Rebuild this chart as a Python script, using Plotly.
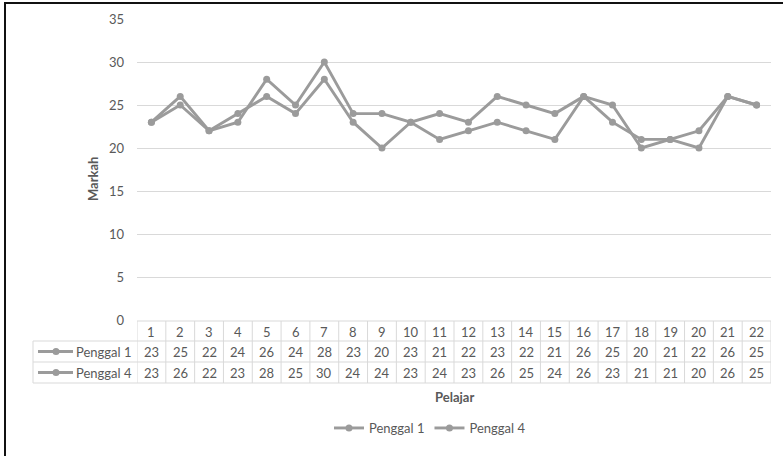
import plotly.graph_objects as go

categories = list(range(1, 23))
penggal1 = [23, 25, 22, 24, 26, 24, 28, 23, 20, 23, 21, 22, 23, 22, 21, 26, 25, 20, 21, 22, 26, 25]
penggal4 = [23, 26, 22, 23, 28, 25, 30, 24, 24, 23, 24, 23, 26, 25, 24, 26, 23, 21, 21, 20, 26, 25]
series_names = ["Penggal 1", "Penggal 4"]
y_ticks = [0, 5, 10, 15, 20, 25, 30, 35]

W, H = 783, 456
LINE = "#9b9b9b"
TXT = "#595959"
GRID = "#d9d9d9"
FONT = "Lato, 'Open Sans', sans-serif"
FS = 13


def yp(py):
    return 1 - py / H


def xp(px):
    return px / W


def ann(**kw):
    base = dict(showarrow=False, xanchor="center", yanchor="middle",
                font=dict(size=FS, color=TXT, family=FONT))
    base.update(kw)
    return base


fig = go.Figure()
for name, vals in zip(series_names, [penggal1, penggal4]):
    fig.add_trace(go.Scatter(
        x=categories, y=vals, name=name, mode="lines+markers",
        line=dict(color=LINE, width=2.9),
        marker=dict(color=LINE, size=7),
    ))

shapes = []
annotations = []

t_top, r1, r2, t_bot = 321, 341, 362, 383
lab_left = 33
plot_left, plot_right = 137, 771

shapes.append(dict(type="line", xref="paper", yref="paper", x0=xp(plot_left), x1=xp(plot_right),
                   y0=yp(t_top), y1=yp(t_top), line=dict(color=GRID, width=1)))
for py in (r1, r2, t_bot):
    shapes.append(dict(type="line", xref="paper", yref="paper", x0=xp(lab_left), x1=xp(plot_right),
                       y0=yp(py), y1=yp(py), line=dict(color=GRID, width=1)))
for i in range(len(categories) + 1):
    xv = categories[0] - 0.5 + i
    shapes.append(dict(type="line", xref="x", yref="paper", x0=xv, x1=xv,
                       y0=yp(t_top), y1=yp(t_bot), line=dict(color=GRID, width=1)))
shapes.append(dict(type="line", xref="paper", yref="paper", x0=xp(lab_left), x1=xp(lab_left),
                   y0=yp(r1), y1=yp(t_bot), line=dict(color=GRID, width=1)))

for c in categories:
    annotations.append(ann(x=c, y=yp((t_top + r1) / 2 + 1), xref="x", yref="paper", text=str(c)))
for (top, bot), name, vals in zip([(r1, r2), (r2, t_bot)], series_names, [penggal1, penggal4]):
    yc = yp((top + bot) / 2)
    for c, v in zip(categories, vals):
        annotations.append(ann(x=c, y=yc, xref="x", yref="paper", text=str(v)))
    shapes.append(dict(type="line", xref="paper", yref="paper", x0=xp(38), x1=xp(73), y0=yc, y1=yc,
                       line=dict(color=LINE, width=2.9)))
    shapes.append(dict(type="circle", xref="paper", yref="paper", x0=xp(52.5), x1=xp(59.5),
                       y0=yc - 3.5 / H, y1=yc + 3.5 / H, fillcolor=LINE, line=dict(color=LINE, width=0)))
    annotations.append(ann(x=xp(74), y=yc, xref="paper", yref="paper", text=name, xanchor="left"))

annotations.append(ann(x=xp(454), y=yp(397), xref="paper", yref="paper", text="<b>Pelajar</b>",
                       font=dict(size=13, color=TXT, family=FONT)))
annotations.append(ann(x=xp(93), y=yp(179), xref="paper", yref="paper", text="<b>Markah</b>",
                       textangle=-90, font=dict(size=13, color=TXT, family=FONT)))

shapes.append(dict(type="line", xref="paper", yref="paper", x0=xp(5), x1=xp(5), y0=0, y1=yp(2),
                   line=dict(color="#111111", width=2)))
shapes.append(dict(type="line", xref="paper", yref="paper", x0=xp(4), x1=1, y0=yp(3), y1=yp(3),
                   line=dict(color="#111111", width=2)))

fig.update_layout(
    template="none",
    width=W, height=H,
    margin=dict(l=0, r=0, t=0, b=0, pad=0, autoexpand=False),
    paper_bgcolor="white", plot_bgcolor="white",
    showlegend=True,
    legend=dict(orientation="h", x=xp(430), xanchor="center", y=yp(428), yanchor="middle",
                font=dict(size=FS, color=TXT, family=FONT), itemwidth=30, bgcolor="rgba(0,0,0,0)"),
    xaxis=dict(domain=[xp(plot_left), xp(plot_right)], range=[0.5, 22.5], showticklabels=False,
               showgrid=False, zeroline=False, showline=False, ticks="", automargin=False),
    yaxis=dict(domain=[yp(320), yp(19)], range=[0, 35], tickvals=y_ticks, showgrid=True,
               gridcolor=GRID, gridwidth=1, zeroline=False, showline=False, ticks="",
               tickfont=dict(size=FS, color=TXT, family=FONT), ticklabelstandoff=12, automargin=False),
    shapes=shapes, annotations=annotations,
    font=dict(family=FONT),
)

post = (
    "document.body.style.margin='0';document.body.style.overflow='hidden';"
    "var gd=document.getElementById('{plot_id}');"
    "Plotly.newPlot(gd, gd.data, gd.layout, {displayModeBar:false, responsive:false});"
)
fig.write_html("out.html", config={"displayModeBar": False}, post_script=post)
